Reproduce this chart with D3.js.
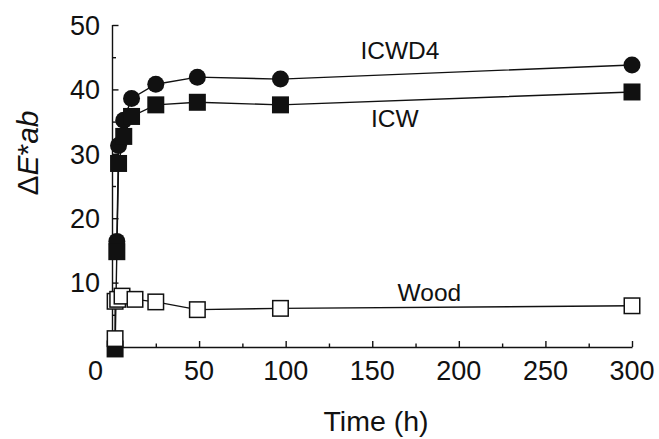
<!DOCTYPE html>
<html>
<head>
<meta charset="utf-8">
<script src="https://cdn.jsdelivr.net/npm/d3@7"></script>
<style>
  body { margin: 0; background: #fff; }
  svg { font-family: "Liberation Sans", Arial, sans-serif; }
</style>
</head>
<body>
<svg id="chart" width="659" height="439"></svg>
<script>
// values
var icwd4T = [2.5, 3.5, 6.5, 11, 25, 49, 97, 300];
var icwd4Y = [16.4, 31.3, 35.2, 38.6, 40.8, 41.9, 41.6, 43.8];

var icwT = [1.5, 2.5, 3.5, 6.5, 11, 25, 49, 97, 300];
var icwY = [-0.3, 14.8, 28.5, 32.7, 35.8, 37.6, 38.0, 37.6, 39.6];

var woodT = [1.5, 1.5, 3, 5.5, 13, 25, 49, 97, 300];
var woodY = [1.3, 7.1, 7.4, 7.9, 7.4, 7.0, 5.8, 6.0, 6.4];

var xTicks = [0, 50, 100, 150, 200, 250, 300];
var xMinor = [25, 75, 125, 175, 225, 275];
var yTicks = [10, 20, 30, 40, 50];
var yMinor = [5, 15, 25, 35, 45];

var svg = d3.select('#chart');

var x = d3.scaleLinear().domain([0, 300]).range([112.5, 632]);
var y = d3.scaleLinear().domain([0, 50]).range([347, 25]);

function zip(t, v) {
  return t.map(function(d, i) { return { t: d, v: v[i] }; });
}

// axes, ticks pointing inward
var xAxis = svg.append('g')
  .attr('transform', 'translate(0,' + y(0) + ')')
  .call(d3.axisTop(x).tickValues(xTicks).tickSize(6).tickPadding(0).tickSizeOuter(0));
xAxis.selectAll('text').remove();
xAxis.append('g')
  .call(d3.axisTop(x).tickValues(xMinor).tickSize(3.5).tickFormat('').tickSizeOuter(0))
  .select('.domain').remove();
xAxis.selectAll('.domain, line').attr('stroke', '#111').attr('stroke-width', 1.4);

svg.append('g').selectAll('text')
  .data(xTicks)
  .enter().append('text')
  .attr('x', function(d) { return d === 0 ? x(d) - 17 : x(d); })
  .attr('y', 380)
  .attr('text-anchor', 'middle')
  .attr('font-size', 27)
  .attr('fill', '#111')
  .text(function(d) { return d; });

var yAxis = svg.append('g')
  .attr('transform', 'translate(' + x(0) + ',0)')
  .call(d3.axisRight(y).tickValues(yTicks).tickSize(6).tickSizeOuter(0));
yAxis.selectAll('text').remove();
yAxis.append('g')
  .call(d3.axisRight(y).tickValues(yMinor).tickSize(3.5).tickFormat('').tickSizeOuter(0))
  .select('.domain').remove();
yAxis.select('.domain').attr('d', 'M0,' + y(0) + 'V' + y(50));
yAxis.selectAll('.domain, line').attr('stroke', '#111').attr('stroke-width', 1.4);

svg.append('g').selectAll('text')
  .data(yTicks)
  .enter().append('text')
  .attr('x', 100)
  .attr('y', function(d) { return y(d) + 9.7; })
  .attr('text-anchor', 'end')
  .attr('font-size', 27)
  .attr('fill', '#111')
  .text(function(d) { return d; });

// axis titles
svg.append('text')
  .attr('x', 376)
  .attr('y', 431)
  .attr('text-anchor', 'middle')
  .attr('font-size', 28.5)
  .attr('fill', '#111')
  .text('Time (h)');

var yTitle = svg.append('text')
  .attr('transform', 'translate(38,153) rotate(-90)')
  .attr('text-anchor', 'middle')
  .attr('font-size', 30)
  .attr('fill', '#111');
yTitle.append('tspan').text('\u0394');
yTitle.append('tspan').attr('font-style', 'italic').text('E');
yTitle.append('tspan').text('*');
yTitle.append('tspan').attr('font-style', 'italic').text('ab');

// series
var line = d3.line()
  .x(function(d) { return x(d.t); })
  .y(function(d) { return y(d.v); });

var icwd4 = zip(icwd4T, icwd4Y);
var icw = zip(icwT, icwY);
var wood = zip(woodT, woodY);

[icwd4, icw, wood].forEach(function(s) {
  svg.append('path')
    .datum(s)
    .attr('d', line)
    .attr('fill', 'none')
    .attr('stroke', '#111')
    .attr('stroke-width', 1.4);
});

svg.append('g').selectAll('circle')
  .data(icwd4)
  .enter().append('circle')
  .attr('cx', function(d) { return x(d.t); })
  .attr('cy', function(d) { return y(d.v); })
  .attr('r', 8.5)
  .attr('fill', '#111');

var sq = 17;
svg.append('g').selectAll('rect')
  .data(icw)
  .enter().append('rect')
  .attr('x', function(d) { return x(d.t) - sq / 2; })
  .attr('y', function(d) { return y(d.v) - sq / 2; })
  .attr('width', sq)
  .attr('height', sq)
  .attr('fill', '#111');

svg.append('g').selectAll('rect')
  .data(wood)
  .enter().append('rect')
  .attr('x', function(d) { return x(d.t) - (sq - 1.5) / 2; })
  .attr('y', function(d) { return y(d.v) - (sq - 1.5) / 2; })
  .attr('width', sq - 1.5)
  .attr('height', sq - 1.5)
  .attr('fill', '#fff')
  .attr('stroke', '#111')
  .attr('stroke-width', 1.5);

// series labels
var labels = [
  { text: 'ICWD4', t: 166, v: 44.7 },
  { text: 'ICW', t: 163, v: 34.2 },
  { text: 'Wood', t: 183, v: 7.2 }
];
svg.append('g').selectAll('text')
  .data(labels)
  .enter().append('text')
  .attr('x', function(d) { return x(d.t); })
  .attr('y', function(d) { return y(d.v); })
  .attr('text-anchor', 'middle')
  .attr('font-size', 24.5)
  .attr('fill', '#111')
  .text(function(d) { return d.text; });
</script>
</body>
</html>
